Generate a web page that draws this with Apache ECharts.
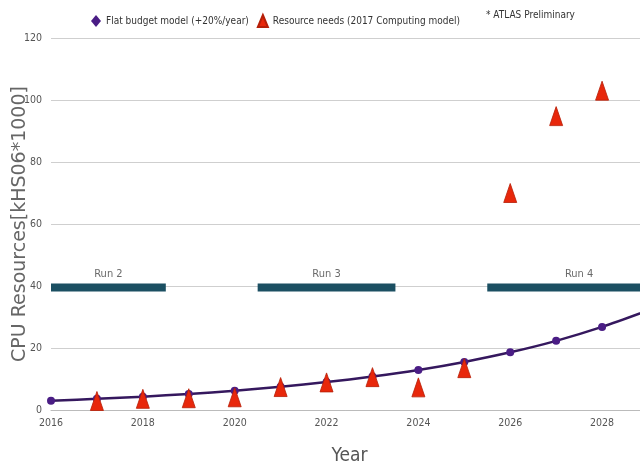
<!DOCTYPE html>
<html>
<head>
<meta charset="utf-8">
<script src="https://cdn.jsdelivr.net/npm/echarts@6/dist/echarts.min.js"></script>
<style>
  html, body { margin: 0; padding: 0; background: #fff; }
  #chart { width: 640px; height: 467px; }
</style>
</head>
<body>
<div id="chart"></div>
<script>
// Years on the x axis
const years = [2016, 2017, 2018, 2019, 2020, 2021, 2022, 2023, 2024, 2025, 2026, 2027, 2028, 2029];
// Flat budget model (+20%/year), kHS06*1000
const flatBudget = [3.0, 3.6, 4.3, 5.2, 6.2, 7.5, 9.0, 10.8, 12.9, 15.5, 18.6, 22.3, 26.8, 32.1];
// Resource needs (2017 Computing model)
const needYears = [2017, 2018, 2019, 2020, 2021, 2022, 2023, 2024, 2025, 2026, 2027, 2028];
const needValues = [2.9, 3.6, 3.8, 4.1, 7.4, 8.9, 10.6, 7.3, 13.5, 70, 94.8, 103];
// LHC run periods
const runNames = ['Run 2', 'Run 3', 'Run 4'];
const runStart = [2016, 2020.5, 2025.5];
const runEnd = [2018.5, 2023.5, 2029.5];
const runLevel = 39.5;
// Axis ticks
const yTicks = [0, 20, 40, 60, 80, 100, 120];

const condensed = "'Liberation Sans Narrow', 'DejaVu Sans Condensed', sans-serif";

const runSeries = runNames.map((name, i) => ({
  type: 'line',
  name: name,
  data: [[runStart[i], runLevel], [runEnd[i], runLevel]],
  symbol: 'none',
  silent: true,
  lineStyle: { color: '#1b4f62', width: 8, cap: 'butt' },
  z: 1
}));

const runLabels = {
  type: 'scatter',
  name: 'runLabels',
  data: runNames.map((name, i) => ({ value: [(runStart[i] + runEnd[i]) / 2, runLevel], name })),
  symbolSize: 0,
  silent: true,
  label: {
    show: true, position: 'top', distance: 8,
    formatter: p => p.name,
    fontFamily: condensed, fontSize: 11, color: '#444'
  },
  z: 1
};

const chart = echarts.init(document.getElementById('chart'));
chart.setOption({
  animation: false,
  backgroundColor: '#fff',
  grid: { left: 51, right: -8, top: 38, bottom: 57, outerBoundsMode: 'none', containLabel: false },
  legend: {
    data: [
      { name: 'Flat budget model (+20%/year)', icon: 'diamond' },
      { name: 'Resource needs (2017 Computing model)', icon: 'triangle' }
    ],
    left: 86, top: 9,
    itemWidth: 10, itemHeight: 12, itemGap: 8,
    textStyle: { fontFamily: condensed, fontSize: 10, color: '#333' }
  },
  graphic: [{
    type: 'text', left: 486, top: 10,
    style: { text: '* ATLAS Preliminary', font: "10px 'Liberation Sans Narrow', 'DejaVu Sans Condensed', sans-serif", fill: '#333' }
  }],
  xAxis: {
    type: 'value', min: 2016, max: 2029, interval: 2,
    name: 'Year', nameLocation: 'middle', nameGap: 37, nameMoveOverlap: false,
    nameTextStyle: { fontFamily: condensed, fontSize: 19, color: '#555' },
    axisLine: { show: true, lineStyle: { color: '#bbb', width: 1 } },
    axisTick: { show: false },
    splitLine: { show: false },
    axisLabel: {
      fontFamily: condensed, fontSize: 10.5, color: '#555', margin: 8,
      formatter: v => (v % 2 === 0 && v <= 2028) ? String(v) : ''
    }
  },
  yAxis: {
    type: 'value', min: 0, max: 120, interval: 20,
    name: 'CPU Resources[kHS06*1000]', nameLocation: 'middle', nameGap: 21, nameMoveOverlap: false,
    nameTextStyle: { fontFamily: "'DejaVu Sans', sans-serif", fontSize: 19, color: '#666' },
    axisLine: { show: false },
    axisTick: { show: false },
    splitLine: { lineStyle: { color: '#cfcfcf', width: 1 } },
    axisLabel: {
      fontFamily: condensed, fontSize: 10.5, color: '#555', margin: 9,
      formatter: v => yTicks.includes(v) ? String(v) : ''
    }
  },
  series: [
    ...runSeries,
    runLabels,
    {
      type: 'line',
      name: 'Flat budget model (+20%/year)',
      data: years.map((y, i) => [y, flatBudget[i]]),
      smooth: 0.3,
      symbol: 'circle', symbolSize: 8,
      lineStyle: { color: '#35185e', width: 2.5 },
      itemStyle: { color: '#4a1d85' },
      z: 3
    },
    {
      type: 'scatter',
      name: 'Resource needs (2017 Computing model)',
      data: needYears.map((y, i) => [y, needValues[i]]),
      symbol: 'triangle', symbolSize: [13, 19],
      itemStyle: { color: '#e8270b', borderColor: '#b61f08', borderWidth: 0.8, opacity: 1 },
      z: 4
    }
  ]
});
</script>
</body>
</html>
